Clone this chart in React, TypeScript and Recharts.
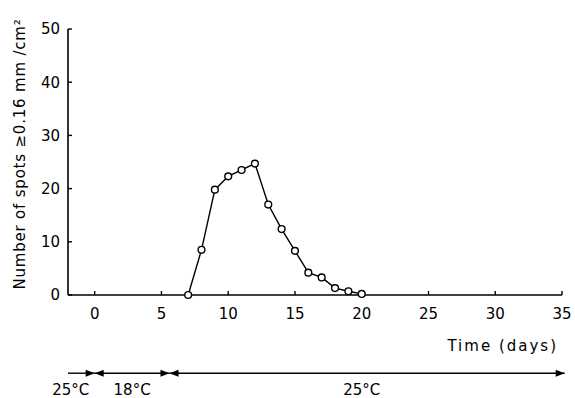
import React from 'react';
import { LineChart, Line, XAxis, YAxis, ReferenceLine } from 'recharts';

// days after inoculation
const days = [7, 8, 9, 10, 11, 12, 13, 14, 15, 16, 17, 18, 19, 20];
// number of spots >= 0.16 mm per cm2
const spots = [0, 8.5, 19.8, 22.3, 23.5, 24.7, 17.0, 12.4, 8.3, 4.2, 3.3, 1.3, 0.7, 0.2];

const xTicks = [0, 5, 10, 15, 20, 25, 30, 35];
const yTicks = [0, 10, 20, 30, 40, 50];

// temperature regime shown under the time axis
const phaseFrom = [-2, 0, 5.6];
const phaseTo = [0, 5.6, 35.2];
const phaseLabel = ['25°C', '18°C', '25°C'];
const phaseLabelAt = [-1.8, 2.8, 20];

const data = days.map((d, i) => ({ day: d, spots: spots[i] }));

const FONT = '"DejaVu Sans", Verdana, sans-serif';
const ARROW_Y = -14.7;

function arrowHead(x: number, y: number, dir: number, key: string) {
  // dir = 1 points right, -1 points left
  const len = 9;
  const half = 3.5;
  return (
    <polygon
      key={key}
      points={`${x},${y} ${x - dir * len},${y - half} ${x - dir * len},${y + half}`}
      fill="#000"
    />
  );
}

function phaseShape(index: number) {
  return (props: any) => {
    const { x1, y1, x2, y2 } = props;
    const width = x2 - x1;
    const labelX = x1 + (width * (phaseLabelAt[index] - phaseFrom[index])) / (phaseTo[index] - phaseFrom[index]);
    return (
      <g>
        <line x1={x1} y1={y1} x2={x2} y2={y2} stroke="#000" strokeWidth={1.4} />
        {index > 0 ? arrowHead(x1, y1, -1, 'l') : null}
        {arrowHead(x2, y2, 1, 'r')}
        <text x={labelX} y={y1 + 22} textAnchor="middle" fontFamily={FONT} fontSize={15} fill="#000">
          {phaseLabel[index]}
        </text>
      </g>
    );
  };
}

const XLabel = (props: any) => {
  const { viewBox } = props;
  return (
    <text
      x={viewBox.x + viewBox.width - 4}
      y={viewBox.y + 56}
      textAnchor="end"
      fontFamily={FONT}
      fontSize={15}
      letterSpacing={2}
      fill="#000"
    >
      Time (days)
    </text>
  );
};

const YLabel = () => (
  <text
    x={20}
    y={154}
    transform="rotate(-90 20 154)"
    textAnchor="middle"
    dominantBaseline="central"
    fontFamily={FONT}
    fontSize={15}
    letterSpacing={0.8}
    fill="#000"
  >
    Number of spots ≥0.16 mm /cm²
  </text>
);

export default function App() {
  return (
    <div style={{ position: 'absolute', left: 0, top: 0, background: '#fff' }}>
      <LineChart
        width={575}
        height={398}
        data={data}
        margin={{ top: 29, right: 13, left: 8, bottom: 73 }}
      >
        <XAxis
          dataKey="day"
          type="number"
          domain={[-2, 35]}
          ticks={xTicks}
          allowDataOverflow
          height={30}
          tickSize={-4}
          tickMargin={17}
          axisLine={{ stroke: '#000', strokeWidth: 1.6 }}
          tickLine={{ stroke: '#000', strokeWidth: 1.4 }}
          tick={{ fill: '#000', fontSize: 15, fontFamily: FONT }}
          label={<XLabel />}
        />
        <YAxis
          type="number"
          domain={[0, 50]}
          ticks={yTicks}
          width={60}
          tickSize={-4}
          tickMargin={12}
          axisLine={{ stroke: '#000', strokeWidth: 1.6 }}
          tickLine={{ stroke: '#000', strokeWidth: 1.4 }}
          tick={{ fill: '#000', fontSize: 15, fontFamily: FONT }}
          label={<YLabel />}
        />
        {phaseFrom.map((from, i) => (
          <ReferenceLine
            key={`phase-${i}`}
            segment={[
              { x: from, y: ARROW_Y },
              { x: phaseTo[i], y: ARROW_Y },
            ]}
            ifOverflow="visible"
            shape={phaseShape(i)}
          />
        ))}
        <Line
          type="linear"
          dataKey="spots"
          stroke="#000"
          strokeWidth={1.4}
          dot={{ r: 3.4, fill: '#fff', stroke: '#000', strokeWidth: 1.4 }}
          isAnimationActive={false}
        />
      </LineChart>
    </div>
  );
}
